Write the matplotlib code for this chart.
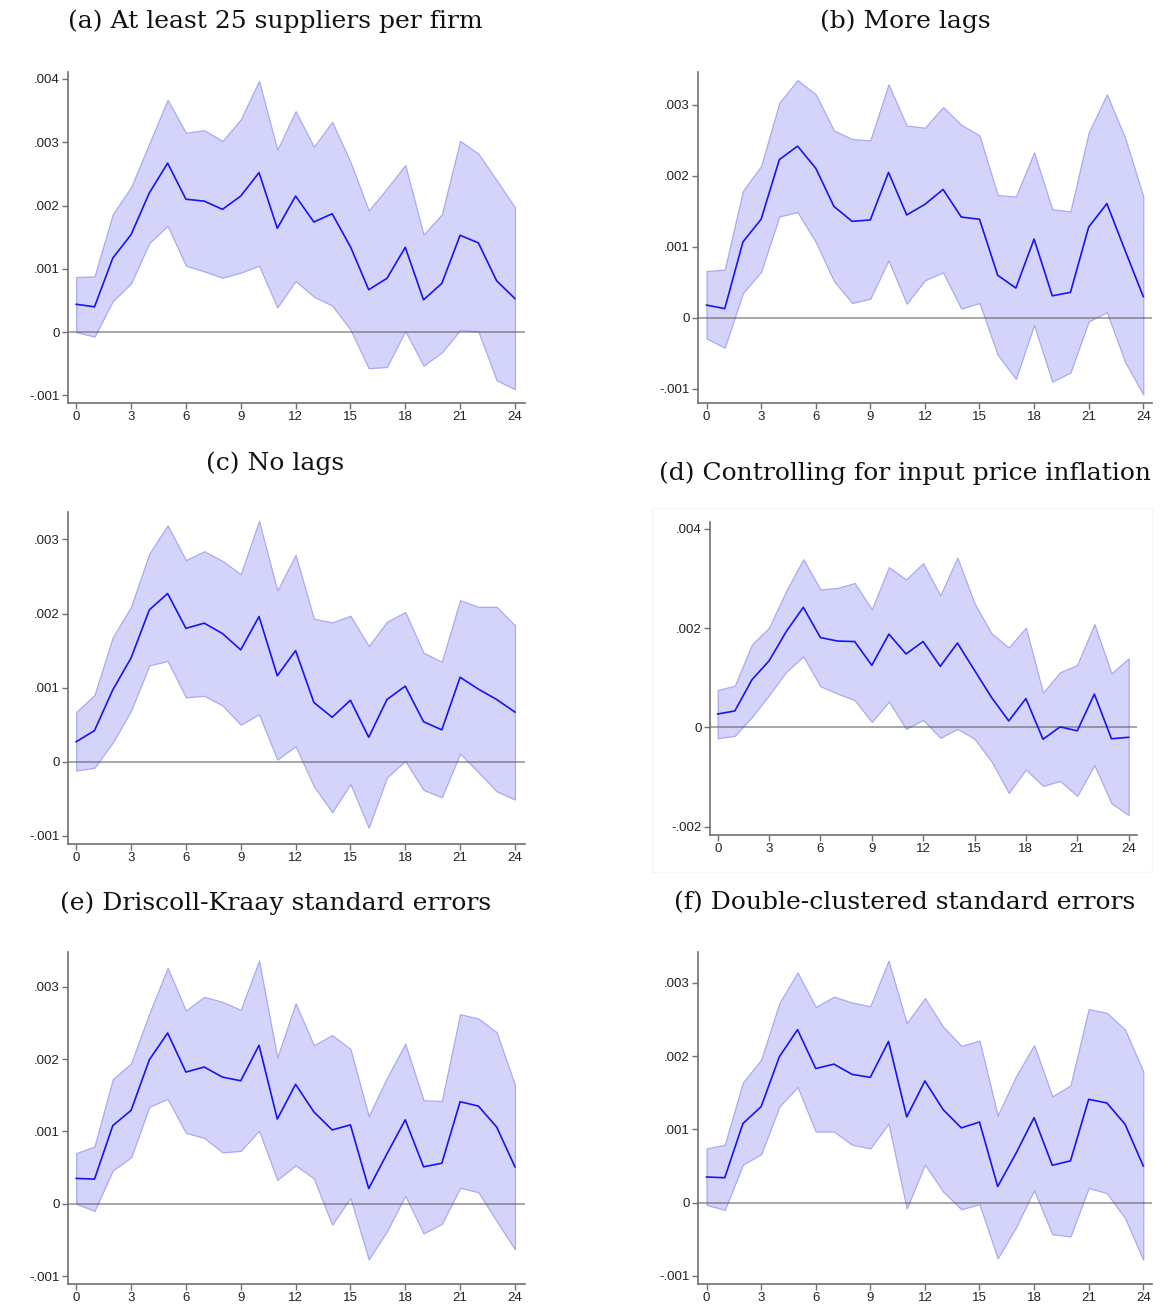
import matplotlib
matplotlib.use("Agg")
import matplotlib.pyplot as plt
from matplotlib.ticker import FuncFormatter
from matplotlib.patches import Rectangle

# Horizons (months) and impulse responses, in units of 0.001
horizon = list(range(25))
SCALE = 1e-3

titles = [
    "(a) At least 25 suppliers per firm",
    "(b) More lags",
    "(c) No lags",
    "(d) Controlling for input price inflation",
    "(e) Driscoll-Kraay standard errors",
    "(f) Double-clustered standard errors",
]

a_mean = [0.44, 0.40, 1.17, 1.54, 2.20, 2.67, 2.10, 2.07, 1.94, 2.15, 2.52, 1.64, 2.15,
          1.74, 1.87, 1.35, 0.67, 0.85, 1.34, 0.51, 0.77, 1.53, 1.41, 0.81, 0.53]
a_upper = [0.87, 0.88, 1.86, 2.29, 2.98, 3.67, 3.15, 3.19, 3.02, 3.36, 3.97, 2.88, 3.49,
           2.93, 3.32, 2.69, 1.92, 2.27, 2.64, 1.54, 1.86, 3.02, 2.82, 2.40, 1.97]
a_lower = [0.00, -0.07, 0.49, 0.77, 1.41, 1.68, 1.05, 0.96, 0.86, 0.94, 1.05, 0.39, 0.81,
           0.56, 0.42, 0.04, -0.57, -0.55, 0.02, -0.53, -0.32, 0.03, 0.01, -0.76, -0.90]

b_mean = [0.18, 0.13, 1.07, 1.39, 2.23, 2.42, 2.11, 1.57, 1.36, 1.38, 2.05, 1.45, 1.60,
          1.81, 1.42, 1.39, 0.60, 0.42, 1.11, 0.31, 0.36, 1.28, 1.61, 0.95, 0.30]
b_upper = [0.66, 0.68, 1.79, 2.14, 3.03, 3.35, 3.15, 2.64, 2.52, 2.50, 3.29, 2.71, 2.68,
           2.97, 2.72, 2.57, 1.73, 1.71, 2.33, 1.53, 1.50, 2.61, 3.15, 2.54, 1.71]
b_lower = [-0.29, -0.42, 0.35, 0.65, 1.43, 1.49, 1.07, 0.52, 0.21, 0.27, 0.81, 0.20, 0.53,
           0.64, 0.13, 0.21, -0.52, -0.86, -0.10, -0.90, -0.77, -0.05, 0.08, -0.62, -1.08]

c_mean = [0.27, 0.42, 0.97, 1.40, 2.05, 2.27, 1.80, 1.87, 1.73, 1.51, 1.96, 1.16, 1.50,
          0.80, 0.60, 0.83, 0.33, 0.84, 1.02, 0.54, 0.43, 1.14, 0.98, 0.84, 0.67]
c_upper = [0.67, 0.90, 1.68, 2.09, 2.81, 3.19, 2.72, 2.84, 2.71, 2.53, 3.25, 2.31, 2.79,
           1.93, 1.88, 1.97, 1.56, 1.89, 2.02, 1.47, 1.35, 2.18, 2.09, 2.09, 1.84]
c_lower = [-0.12, -0.08, 0.26, 0.69, 1.30, 1.36, 0.87, 0.89, 0.76, 0.50, 0.64, 0.03, 0.21,
           -0.33, -0.68, -0.30, -0.89, -0.21, 0.01, -0.38, -0.48, 0.11, -0.14, -0.40, -0.51]

d_mean = [0.27, 0.33, 0.96, 1.34, 1.93, 2.42, 1.81, 1.74, 1.73, 1.25, 1.88, 1.48, 1.73,
          1.23, 1.70, 1.15, 0.60, 0.13, 0.58, -0.24, 0.01, -0.07, 0.67, -0.23, -0.20]
d_upper = [0.75, 0.84, 1.67, 2.01, 2.75, 3.39, 2.78, 2.81, 2.91, 2.38, 3.23, 2.98, 3.31,
           2.66, 3.42, 2.50, 1.89, 1.61, 2.01, 0.70, 1.11, 1.26, 2.08, 1.09, 1.39]
d_lower = [-0.22, -0.17, 0.21, 0.65, 1.12, 1.43, 0.83, 0.68, 0.55, 0.11, 0.52, -0.03, 0.15,
           -0.21, -0.03, -0.23, -0.69, -1.32, -0.85, -1.18, -1.08, -1.38, -0.76, -1.53, -1.77]

e_mean = [0.35, 0.34, 1.08, 1.29, 1.99, 2.36, 1.82, 1.89, 1.75, 1.70, 2.19, 1.17, 1.65,
          1.27, 1.02, 1.09, 0.21, 0.69, 1.16, 0.51, 0.56, 1.41, 1.35, 1.06, 0.51]
e_upper = [0.70, 0.79, 1.72, 1.94, 2.63, 3.26, 2.67, 2.86, 2.79, 2.68, 3.36, 2.02, 2.77,
           2.19, 2.33, 2.14, 1.21, 1.74, 2.21, 1.43, 1.42, 2.62, 2.56, 2.37, 1.64]
e_lower = [0.00, -0.10, 0.46, 0.64, 1.34, 1.45, 0.98, 0.91, 0.71, 0.73, 1.01, 0.33, 0.53,
           0.35, -0.29, 0.08, -0.77, -0.38, 0.11, -0.41, -0.28, 0.22, 0.16, -0.24, -0.63]

f_mean = [0.35, 0.34, 1.08, 1.31, 1.99, 2.36, 1.83, 1.89, 1.75, 1.71, 2.20, 1.17, 1.66,
          1.27, 1.02, 1.10, 0.22, 0.67, 1.16, 0.51, 0.57, 1.41, 1.36, 1.07, 0.50]
f_upper = [0.74, 0.79, 1.64, 1.95, 2.72, 3.14, 2.67, 2.81, 2.73, 2.68, 3.30, 2.45, 2.79,
           2.40, 2.14, 2.21, 1.19, 1.72, 2.15, 1.45, 1.60, 2.64, 2.59, 2.36, 1.79]
f_lower = [-0.03, -0.10, 0.52, 0.66, 1.31, 1.58, 0.97, 0.97, 0.79, 0.74, 1.08, -0.08, 0.52,
           0.15, -0.09, -0.02, -0.76, -0.34, 0.17, -0.43, -0.46, 0.20, 0.13, -0.21, -0.78]

y_ticks = [
    [-0.001, 0, 0.001, 0.002, 0.003, 0.004],
    [-0.001, 0, 0.001, 0.002, 0.003],
    [-0.001, 0, 0.001, 0.002, 0.003],
    [-0.002, 0, 0.002, 0.004],
    [-0.001, 0, 0.001, 0.002, 0.003],
    [-0.001, 0, 0.001, 0.002, 0.003],
]
x_ticks = list(range(0, 25, 3))

series = [
    (a_mean, a_upper, a_lower),
    (b_mean, b_upper, b_lower),
    (c_mean, c_upper, c_lower),
    (d_mean, d_upper, d_lower),
    (e_mean, e_upper, e_lower),
    (f_mean, f_upper, f_lower),
]

# Layout in pixels: axes box (left, top, right, bottom), limits, title position
W, H = 1165, 1310
boxes = [
    (68, 72, 525, 403),
    (698, 72, 1152, 403),
    (68, 512, 525, 844),
    (710, 522, 1137, 835),
    (68, 952, 525, 1284),
    (698, 952, 1152, 1284),
]
xlims = [(-0.45, 24.55), (-0.47, 24.48), (-0.45, 24.55),
         (-0.45, 24.49), (-0.45, 24.55), (-0.47, 24.48)]
ylims = [(-0.00112, 0.00411), (-0.0012, 0.003465), (-0.00111, 0.00337),
         (-0.00217, 0.00414), (-0.00111, 0.00348), (-0.00111, 0.00342)]
title_pos = [(275, 21), (905, 21), (275, 463), (905, 473), (276, 903), (905, 903)]

LINE = "#1414f5"
FILL = "#d4d4fb"
EDGE = "#a9a9f4"
AXIS = "#707070"


def stata_fmt(v, pos):
    if abs(v) < 1e-12:
        return "0"
    s = f"{v:.3f}".rstrip("0")
    return s.replace("0.", ".", 1)


fig = plt.figure(figsize=(W / 100, H / 100), dpi=100)
fig.patch.set_facecolor("white")

# faint graph-region frame around panel (d)
fig.add_artist(Rectangle((652 / W, 1 - 872 / H), (1152 - 652) / W, (872 - 508) / H,
                         transform=fig.transFigure, fill=False,
                         edgecolor="#f5f5f5", linewidth=1.0))

for i, (mean, upper, lower) in enumerate(series):
    l, t, r, b = boxes[i]
    ax = fig.add_axes([l / W, 1 - b / H, (r - l) / W, (b - t) / H])
    lo = [v * SCALE for v in lower]
    hi = [v * SCALE for v in upper]
    mu = [v * SCALE for v in mean]
    ax.fill_between(horizon, lo, hi, facecolor=FILL, edgecolor=EDGE,
                    linewidth=0.9, zorder=1)
    ax.axhline(0, color="#555555", alpha=0.6, linewidth=1.2, zorder=2)
    ax.plot(horizon, mu, color=LINE, linewidth=1.2, zorder=3)

    ax.set_xlim(*xlims[i])
    ax.set_ylim(*ylims[i])
    ax.set_xticks(x_ticks)
    ax.set_yticks(y_ticks[i])
    ax.yaxis.set_major_formatter(FuncFormatter(stata_fmt))
    for side in ("top", "right"):
        ax.spines[side].set_visible(False)
    for side in ("left", "bottom"):
        ax.spines[side].set_color(AXIS)
        ax.spines[side].set_linewidth(1.2)
    ax.tick_params(axis="both", direction="out", length=4, width=1.0,
                   color=AXIS, labelsize=9.5, labelcolor="#222222", pad=2)
    for lab in ax.get_xticklabels() + ax.get_yticklabels():
        lab.set_fontfamily("Liberation Sans")
    ax.set_facecolor("none")

    tx, ty = title_pos[i]
    fig.text(tx / W, 1 - ty / H, titles[i], ha="center", va="center",
             fontsize=18, family="DejaVu Serif", color="#111111")

fig.savefig("out.png", dpi=100, facecolor="white")
